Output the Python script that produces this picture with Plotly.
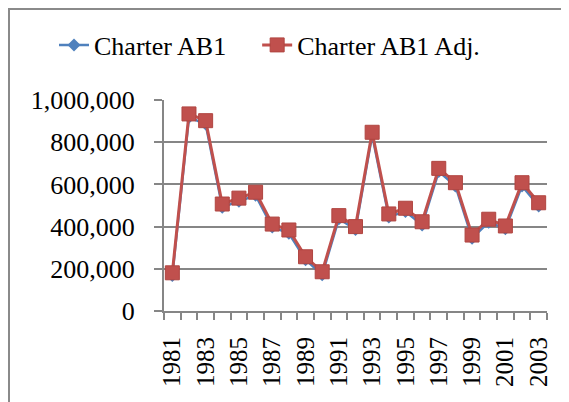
import plotly.graph_objects as go

years = list(range(1981, 2004))
charter_ab1 = [168000, 918000, 886000, 492000, 520000, 548000, 398000, 368000, 243000, 172000,
               437000, 386000, 833000, 446000, 472000, 408000, 661000, 593000, 345000, 421000,
               390000, 593000, 498000]
charter_ab1_adj = [181000, 934000, 902000, 507000, 535000, 563000, 412000, 384000, 257000, 186000,
                   452000, 400000, 847000, 460000, 487000, 423000, 676000, 608000, 360000, 435000,
                   403000, 608000, 513000]
y_ticks = [0, 200000, 400000, 600000, 800000, 1000000]
x_ticks = list(range(1981, 2004, 2))

# page body has an 8px margin, so the figure starts at (8, 8) of the window
W, H = 561, 394
L, R, T, B = 156, 22, 92, 91
pw, ph = W - L - R, H - T - B

fig = go.Figure()
fig.add_trace(go.Scatter(
    x=years, y=charter_ab1, name="Charter AB1" + "\u00a0" * 4, mode="lines+markers",
    line=dict(color="#4F81BD", width=2.5),
    marker=dict(symbol="diamond", size=10, color="#4F81BD")))
fig.add_trace(go.Scatter(
    x=years, y=charter_ab1_adj, name="Charter AB1 Adj.", mode="lines+markers",
    line=dict(color="#C0504D", width=3),
    marker=dict(symbol="square", size=14, color="#C0504D",
                line=dict(color="#B04540", width=1))))

font_family = "Liberation Serif, DejaVu Serif, serif"
fig.update_layout(
    width=W, height=H,
    margin=dict(l=L, r=R, t=T, b=B, autoexpand=False),
    paper_bgcolor="white", plot_bgcolor="white",
    font=dict(family=font_family, size=25, color="black"),
    showlegend=True,
    legend=dict(orientation="h", xref="paper", yref="paper",
                x=(46 - L) / pw, y=1 + (T - 37) / ph, xanchor="left", yanchor="middle",
                font=dict(family=font_family, size=26, color="black"),
                itemsizing="trace", tracegroupgap=0, itemwidth=30),
    xaxis=dict(range=[1980.5, 2003.5], tickmode="array", tickvals=x_ticks,
               ticktext=[str(y) for y in x_ticks], tickangle=-90,
               ticks="", showgrid=False, zeroline=False, automargin=False,
               showline=True, linecolor="#868686", linewidth=2,
               ticklabelstandoff=14,
               tickfont=dict(family=font_family, size=25),
               minor=dict(tickmode="linear", tick0=1980.5, dtick=1, ticks="outside",
                          ticklen=7, tickcolor="#868686", tickwidth=2, showgrid=False)),
    yaxis=dict(range=[0, 1000000], tickmode="array", tickvals=y_ticks,
               ticktext=["0", "200,000", "400,000", "600,000", "800,000", "1,000,000"],
               ticks="outside", ticklen=8, tickcolor="#868686", tickwidth=2,
               showgrid=True, gridcolor="#868686", gridwidth=2, zeroline=False,
               showline=True, linecolor="#868686", linewidth=2, automargin=False,
               ticklabelstandoff=14,
               tickfont=dict(family=font_family, size=26)),
)

fig.add_shape(type="rect", xref="paper", yref="paper",
              x0=(1 - L) / pw, x1=(W + 10 - L) / pw,
              y0=1 + (T - 1) / ph, y1=-(H + 10 - T - ph) / ph,
              line=dict(color="#8a8a8a", width=2), fillcolor="rgba(0,0,0,0)", layer="below")

fig.write_html("out.html")
